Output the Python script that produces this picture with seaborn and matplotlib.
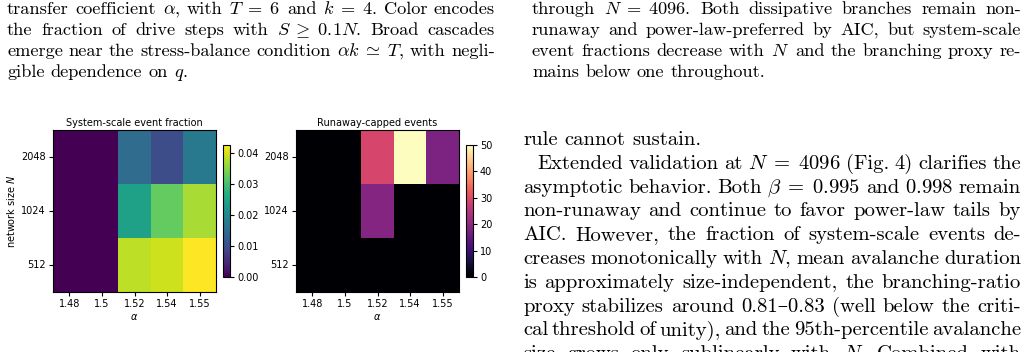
import numpy as np
import pandas as pd

import matplotlib
matplotlib.use('Agg')

from matplotlib import pyplot as plt
from matplotlib import transforms as mtransforms
import seaborn as sns

#==============================================================================
# heatmap data (rows top -> bottom)

alpha_labels = ['1.48', '1.5', '1.52', '1.54', '1.55']
size_labels = ['2048', '1024', '512']

frac_2048 = [0.0, 0.0, 0.0149, 0.0098, 0.0172]
frac_1024 = [0.0, 0.0, 0.0242, 0.0323, 0.0370]
frac_512 = [0.0, 0.0, 0.0383, 0.0392, 0.0425]

capped_2048 = [0, 0, 29, 50, 18]
capped_1024 = [0, 0, 19, 0, 0]
capped_512 = [0, 0, 0, 0, 0]

# page text around the figure
left_lines = [
    r"transfer coefficient $\alpha$, with $T\;=\;6$ and $k\;=\;4$. Color encodes",
    r"the fraction of drive steps with $S\;\geq\;0.1N$. Broad cascades",
    r"emerge near the stress-balance condition $\alpha k\;\simeq\;T$, with negli-",
    r"gible dependence on $q$.",
]
right_top_lines = [
    r"through $N\;=\;4096$. Both dissipative branches remain non-",
    r"runaway and power-law-preferred by AIC, but system-scale",
    r"event fractions decrease with $N$ and the branching proxy re-",
    r"mains below one throughout.",
]
right_low_lines = [
    r"rule cannot sustain.",
    r"Extended validation at $N\;=\;4096$ (Fig. 4) clarifies the",
    r"asymptotic behavior. Both $\beta\;=\;0.995$ and $0.998$ remain",
    r"non-runaway and continue to favor power-law tails by",
    r"AIC. However, the fraction of system-scale events de-",
    r"creases monotonically with $N$, mean avalanche duration",
    r"is approximately size-independent, the branching-ratio",
    r"proxy stabilizes around 0.81–0.83 (well below the criti-",
    r"cal threshold of unity), and the 95th-percentile avalanche",
    r"size grows only sublinearly with $N$. Combined with",
]

#==============================================================================

W, H = 1028, 352
FS = 13.2
FS_LOW = 14.9
FAM = ['cmr10', 'DejaVu Serif']
TICK_FS = 7

fig = plt.figure(figsize=(W / 100, H / 100), dpi=100)
fig.patch.set_facecolor('white')


def px_axes(x0, y0, x1, y1):
    # pixel box (top-left origin) -> figure axes
    return fig.add_axes([x0 / W, 1 - y1 / H, (x1 - x0) / W, (y1 - y0) / H])


def draw_heat(ax, cax, df, cmap, vmax, ticks, fmt, title, ylabel):
    sns.heatmap(df, ax=ax, cmap=cmap, vmin=0, vmax=vmax, cbar_ax=cax,
                cbar_kws={'ticks': ticks, 'format': fmt})
    for s in ax.spines.values():
        s.set_visible(True)
        s.set_linewidth(0.8)
    ax.set_title(title, fontsize=TICK_FS, pad=3)
    ax.set_xlabel(r'$\alpha$', fontsize=TICK_FS, labelpad=2)
    ax.set_ylabel(ylabel, fontsize=TICK_FS, labelpad=3)
    ax.tick_params(labelsize=TICK_FS, length=3, width=0.8, pad=2)
    ax.set_yticklabels(ax.get_yticklabels(), rotation=0)
    ax.set_xticklabels(ax.get_xticklabels(), rotation=0)
    cb = ax.collections[0].colorbar
    cb.outline.set_visible(True)
    cb.outline.set_linewidth(0.8)
    cax.tick_params(labelsize=TICK_FS, length=3, width=0.8, pad=2)


frac_df = pd.DataFrame([frac_2048, frac_1024, frac_512], index=size_labels, columns=alpha_labels)
capped_df = pd.DataFrame([capped_2048, capped_1024, capped_512], index=size_labels, columns=alpha_labels)

ax1 = px_axes(53, 130, 216, 292)
cax1 = px_axes(223, 145, 230, 277)
draw_heat(ax1, cax1, frac_df, 'viridis', 0.0425, [0, 0.01, 0.02, 0.03, 0.04], '%.2f',
          'System-scale event fraction', 'network size $N$')

ax2 = px_axes(296, 130, 459, 292)
cax2 = px_axes(466, 145, 473, 277)
draw_heat(ax2, cax2, capped_df, 'magma', 50, [0, 10, 20, 30, 40, 50], '%d',
          'Runaway-capped events', '')

#==============================================================================
# justified text blocks

renderer = fig.canvas.get_renderer()
ident = mtransforms.IdentityTransform()


def tokens_of(line):
    # split on spaces but keep $...$ groups whole
    out, cur, in_math = [], '', False
    for ch in line:
        if ch == '$':
            in_math = not in_math
        if ch == ' ' and not in_math:
            if cur:
                out.append(cur)
            cur = ''
        else:
            cur += ch
    if cur:
        out.append(cur)
    return out


def put_line(line, x0, x1, y, justify, fs):
    toks = tokens_of(line)
    texts, widths = [], []
    for tok in toks:
        t = fig.text(0, 0, tok, fontsize=fs, family=FAM, math_fontfamily='cm',
                     transform=ident, va='baseline', ha='left')
        texts.append(t)
        widths.append(t.get_window_extent(renderer).width)
    gap = 0.333 * fs * 100 / 72
    if justify and len(toks) > 1:
        gap = (x1 - x0 - sum(widths)) / (len(toks) - 1)
    x = x0
    for t, w in zip(texts, widths):
        t.set_position((x, H - y))
        x += w + gap


def put_block(lines, x0, x1, y0, step, fs, last_free, indents=None):
    for i, line in enumerate(lines):
        ind = indents.get(i, 0) if indents else 0
        put_line(line, x0 + ind, x1, y0 + i * step, i not in last_free, fs)


put_block(left_lines, 7, 495, 14, 21, FS, last_free={3})
put_block(right_top_lines, 532, 1021, 14, 21, FS, last_free={3})
put_block(right_low_lines, 523, 1021, 145, 23.8, FS_LOW, last_free={0}, indents={1: 14})

fig.savefig('out.png', dpi=100)
